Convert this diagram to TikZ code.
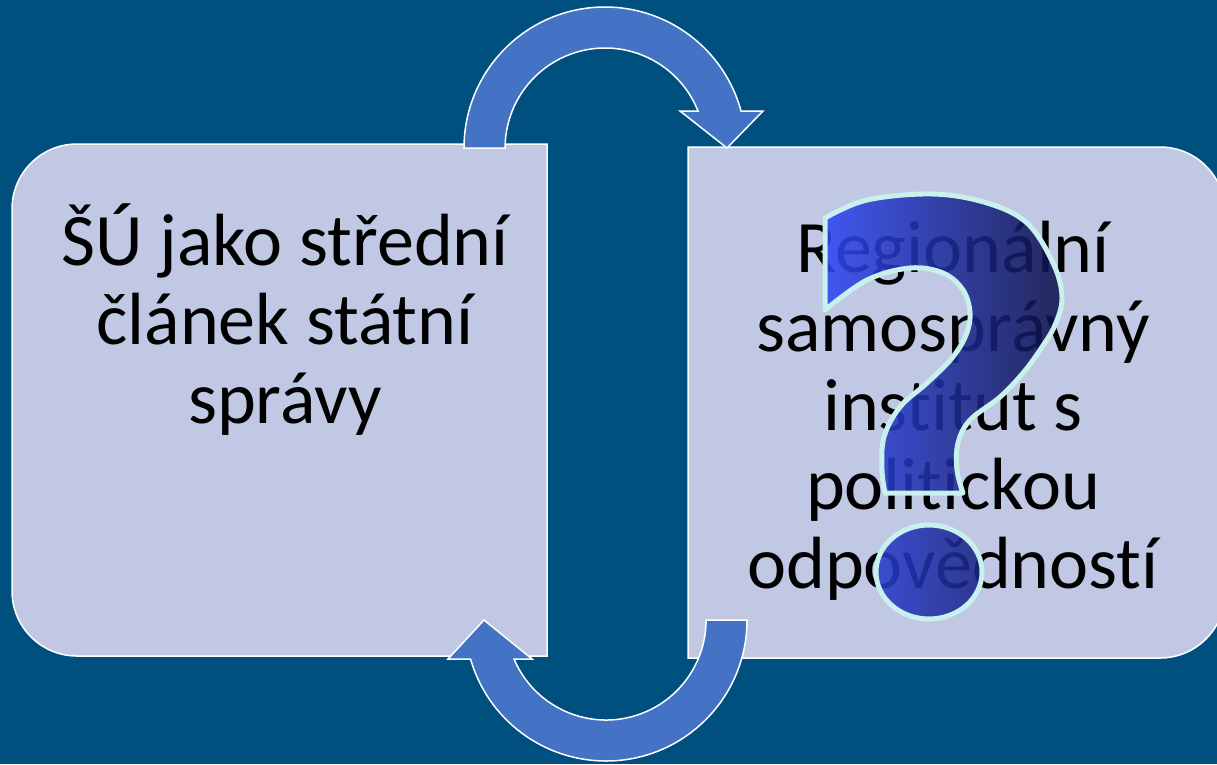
\documentclass[tikz,border=0pt]{standalone}
\usepackage{fontspec}
\setmainfont{Carlito}[Ligatures={NoCommon,NoRare}]
\definecolor{bgblue}{HTML}{00507F}
\definecolor{boxfill}{HTML}{C0C8E4}
\definecolor{arrowblue}{HTML}{4472C4}
\definecolor{qleft}{HTML}{3048F2}
\definecolor{qright}{HTML}{0E1248}
\definecolor{qline}{HTML}{C8F0EC}
\begin{document}
\begin{tikzpicture}[x=1pt,y=-1pt,
  boxshape/.style={fill=boxfill, draw=white, line width=1.5pt},
  blockarrow/.style={fill=arrowblue, draw=white, line width=1.5pt, line join=miter},
  boxtext/.style={font=\fontsize{74}{79}\selectfont, align=center, text=black, inner sep=0pt},
]
\useasboundingbox (0,0) rectangle (1217,764);
\clip (0,0) rectangle (1217,764);
\fill[bgblue] (0,0) rectangle (1217,764);

% left box
\draw[boxshape] (547,144) -- (77,144) arc[start angle=270, end angle=180, radius=65]
  -- (12,591) arc[start angle=180, end angle=90, radius=65] -- (547,656) -- cycle;
% right box
\draw[boxshape] (688,147) -- (1160,147) arc[start angle=270, end angle=360, radius=65]
  -- (1225,593) arc[start angle=0, end angle=90, radius=65] -- (688,658) -- cycle;

% texts
\node[boxtext] (lefttext) at (285,320) {ŠÚ jako střední\\článek státní\\správy};
\node[boxtext] (righttext) at (953,411) {Regionální\\samosprávný\\institut s\\politickou\\odpovědností};

% top arrow (left box -> right box)
\draw[blockarrow] (464,148) arc[start angle=180, end angle=344.79, radius=141]
  -- (763,111) -- (727,148) -- (680,111) -- (698,111)
  arc[start angle=338.28, end angle=180, radius=100] -- cycle;

% bottom arrow (right box -> left box)
\draw[blockarrow] (747,620) arc[start angle=0, end angle=163.94, radius=141]
  -- (448,659) -- (484,620) -- (532,659) -- (514,659)
  arc[start angle=157.05, end angle=0, radius=100] -- cycle;

% question mark
\def\qmark{%
  plot[smooth, tension=0.6] coordinates {(825,218) (867,200) (933,194) (987,203) (1027,223) (1053,263) (1062,297) (1055,325) (1040,350) (1023,373) (1000,397) (970,420) (958,443) (957,470) (963,493)}
  -- plot[smooth, tension=0.6] coordinates {(885,493) (882,470) (884,437) (900,407) (927,383) (952,358) (966,335) (970,313) (963,290) (943,273) (910,268) (867,280) (825,310)}
  -- cycle
  (929,572) ellipse [x radius=53, y radius=47]}
\begin{scope}[transparency group, opacity=0.88]
\shade[left color=qleft, right color=qright] \qmark;
\end{scope}
\draw[qline, line width=5pt, line join=round] \qmark;
\end{tikzpicture}
\end{document}
